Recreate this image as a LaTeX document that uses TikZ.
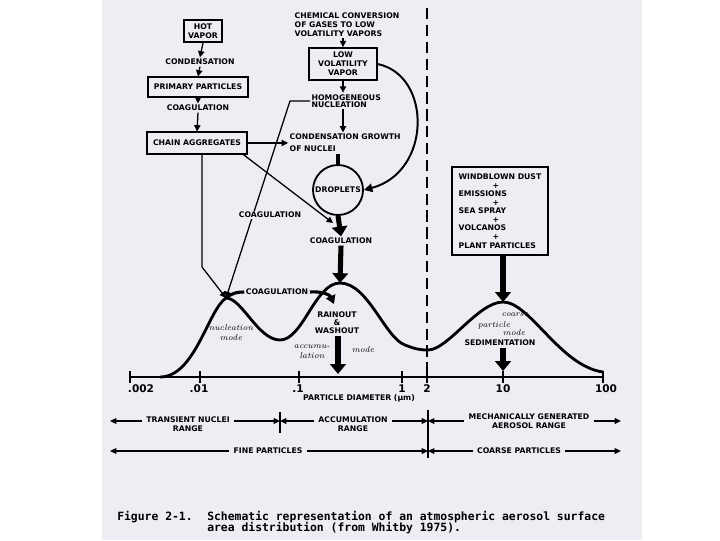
\documentclass[tikz,border=0pt]{standalone}
\usepackage{fontspec}
\setsansfont{DejaVu Sans}
\newfontfamily\capfont{DejaVu Sans Mono}
\usetikzlibrary{arrows.meta}
\definecolor{paper}{RGB}{237,237,244}

\begin{document}
\begin{tikzpicture}[x=0.025cm, y=-0.025cm,
    lbl/.style={font=\sffamily\bfseries\fontsize{5.5}{6.3}\selectfont,
                inner sep=1pt, align=center},
    box/.style={lbl, draw, line width=1.3pt, inner sep=2pt},
    rlbl/.style={lbl, inner sep=3pt},
    hand/.style={font=\rmfamily\itshape\fontsize{6}{7}\selectfont,
                 inner sep=0pt, align=center},
    ticklbl/.style={font=\sffamily\bfseries\fontsize{7.5}{8}\selectfont, inner sep=0pt},
    captxt/.style={font=\capfont\bfseries\fontsize{8.1}{9}\selectfont, anchor=base west, inner sep=0pt},
    arr/.style={-{Triangle[length=4.5pt, width=4.5pt]}, line width=0.9pt},
    bigarr/.style={-{Triangle[length=7pt, width=11pt]}, line width=3.6pt},
    rng/.style={-{Triangle[length=4.5pt, width=4pt]}, line width=1pt},
    curve/.style={line width=2pt},
    divider/.style={line width=1.4pt, dash pattern=on 8pt off 4pt},
  ]
    \useasboundingbox (0,0) rectangle (720,540);
    \fill[paper] (102,0) rectangle (642,540);

    % === Left chain: hot vapor down to chain aggregates ===
    \node[box, minimum width=0.93cm, minimum height=0.55cm] (hot) at (203,31) {HOT\\VAPOR};
    \node[lbl] (cond) at (200,62) {CONDENSATION};
    \node[box, minimum width=2.5cm, minimum height=0.48cm] (prim) at (198,87) {PRIMARY PARTICLES};
    \node[lbl] (coagA) at (198,108) {COAGULATION};
    \node[box, minimum width=2.48cm, minimum height=0.53cm] (chain) at (197,143) {CHAIN AGGREGATES};

    % === Middle chain: gases to droplets ===
    \node[lbl, anchor=west, align=left] (chem) at (293,25)
      {CHEMICAL CONVERSION\\OF GASES TO LOW\\VOLATILITY VAPORS};
    \node[box, minimum width=1.68cm, minimum height=0.8cm] (lowvol) at (343,64)
      {LOW\\VOLATILITY\\VAPOR};
    \node[lbl, anchor=west, align=left, font=\sffamily\bfseries\fontsize{5.5}{5.4}\selectfont]
      (homnuc) at (310,101) {HOMOGENEOUS\\NUCLEATION};
    \node[lbl, anchor=west, align=left, font=\sffamily\bfseries\fontsize{5.5}{8.5}\selectfont]
      (cgrow) at (288,143) {CONDENSATION GROWTH\\OF NUCLEI};
    \node[lbl, draw, circle, line width=1.3pt, minimum size=1.25cm, inner sep=0pt]
      (drop) at (338,190) {DROPLETS};
    \node[lbl] (coagB) at (341,241) {COAGULATION};

    % === Mechanical sources ===
    \node[box, minimum width=2.38cm, minimum height=2.18cm, align=left,
          font=\sffamily\bfseries\fontsize{5.5}{6.1}\selectfont] (wind) at (500,211)
      {WINDBLOWN DUST\\\hspace*{4.4em}+\\EMISSIONS\\\hspace*{4.4em}+\\SEA SPRAY\\
       \hspace*{4.4em}+\\VOLCANOS\\\hspace*{4.4em}+\\PLANT PARTICLES};

    % === Distribution curve and axis ===
    \coordinate (nucpk) at (226,298);
    \coordinate (accpk) at (340,283);
    \coordinate (coapk) at (503,302);
    \draw[curve] (160,377) .. controls (195,377) and (208,310) .. (nucpk)
      .. controls (242,298) and (258,340) .. (280,340)
      .. controls (303,340) and (315,283) .. (accpk)
      .. controls (368,283) and (385,338) .. (405,345)
      .. controls (415,349) and (420,350) .. (428,350)
      .. controls (448,350) and (478,302) .. (coapk)
      .. controls (530,302) and (560,366) .. (603,372);

    \coordinate (axL) at (130,377);
    \coordinate (axR) at (603,377);
    \draw[line width=1.3pt] (axL) -- (axR);
    \foreach \x/\p/\t in {130/141/.002, 200/199/.01, 299/298/.1, 402/402/1,
                          427/427/2, 503/503/10, 603/606/100} {
      \draw[line width=1.1pt] (\x,371) -- (\x,383);
      \node[ticklbl] (lab\x) at (\p,389) {\t};
    }
    \node[lbl] (axname) at (359,398) {PARTICLE DIAMETER (µm)};

    \coordinate (dtop) at (427,8);
    \coordinate (dbot) at (427,372);
    \draw[divider] (dtop) -- (dbot);

    % labels on the curve
    \node[lbl] (coagD) at (277,292) {COAGULATION};
    \node[lbl, font=\sffamily\bfseries\fontsize{5.5}{5.7}\selectfont] (rain) at (337,323)
      {RAINOUT\\\&\\WASHOUT};
    \node[lbl] (sed) at (500,343) {SEDIMENTATION};
    \node[hand] (nucm) at (231,333) {nucleation\\mode};
    \node[hand] (accm) at (312,352) {accumu-\\lation};
    \node[hand] (accm2) at (363,350) {mode};
    \node[hand] (coam1) at (515,315) {coarse};
    \node[hand] (coam2) at (494,325) {particle};
    \node[hand] (coam3) at (514,333) {mode};

    % === Arrows: left chain ===
    \draw[arr] (hot.south) -- (cond.north);
    \draw[arr] (cond.south) -- (prim.north);
    \draw[arr] (prim.south) -- (coagA.north);
    \draw[arr] (coagA.south) -- (chain.north);
    \draw[arr] (chain.east) -- (cgrow.west);
    \coordinate (bendA) at (202,267);
    \draw[arr] (chain.south -| bendA) -- (bendA) -- (nucpk);
    \coordinate (mergeB) at (333,223);
    \draw[arr] ([xshift=-3pt]chain.south east) -- (mergeB);

    % === Arrows: middle chain ===
    \draw[arr] (chem.south -| lowvol) -- (lowvol.north);
    \draw[arr] (lowvol.south) -- (lowvol.south |- homnuc.north);
    \draw[arr] (lowvol.south |- homnuc.south) -- (lowvol.south |- cgrow.north);
    \draw[line width=2.2pt] (drop.north |- cgrow.south) -- (drop.north);
    \draw[line width=1.4pt, -{Triangle[length=6pt, width=6pt]}]
      (lowvol.east) .. controls (432,75) and (432,172) .. (drop.east);
    \coordinate (bendB) at (290,101);
    \draw[arr] (homnuc.west) -- (bendB) -- (nucpk);
    \node[lbl, fill=paper] (coagC) at (270,215) {COAGULATION};

    % === Thick flow arrows ===
    \draw[bigarr] (drop.south) -- (coagB.north);
    \draw[bigarr] (coagB.south) -- (accpk);
    \draw[bigarr] (wind.south -| coapk) -- (coapk);
    \coordinate (rainend) at (338,374);
    \draw[bigarr] (rain.south -| rainend) -- (rainend);
    \coordinate (sedend) at (503,371);
    \draw[bigarr] (sed.south -| sedend) -- (sedend);

    % coagulation between the modes
    \coordinate (accin) at (334,304);
    \draw[line width=2.2pt] (nucpk) .. controls (232,293) and (237,292) .. (coagD.west);
    \draw[line width=2.2pt, -{Triangle[length=6pt, width=7pt]}]
      (coagD.east) .. controls (322,291) and (330,295) .. (accin);

    % === Size ranges ===
    \coordinate (t1) at (110,421);
    \coordinate (c1) at (280,421);
    \coordinate (c2) at (428,421);
    \coordinate (t2) at (621,421);
    \node[rlbl] (tnr) at (188,424) {TRANSIENT NUCLEI\\RANGE};
    \node[rlbl] (accr) at (353,424) {ACCUMULATION\\RANGE};
    \node[rlbl] (mech) at (529,421) {MECHANICALLY GENERATED\\AEROSOL RANGE};
    \draw[rng] (tnr.west |- t1) -- (t1);
    \draw[rng] (tnr.east |- c1) -- (c1);
    \draw[rng] (accr.west |- c1) -- (c1);
    \draw[rng] (accr.east |- c2) -- (c2);
    \draw[rng] (mech.west |- c2) -- (c2);
    \draw[rng] (mech.east |- t2) -- (t2);

    \coordinate (f1) at (110,451);
    \coordinate (f2) at (428,451);
    \coordinate (f3) at (621,451);
    \node[rlbl] (fine) at (268,451) {FINE PARTICLES};
    \node[rlbl] (coarse) at (519,451) {COARSE PARTICLES};
    \draw[rng] (fine.west) -- (f1);
    \draw[rng] (fine.east) -- (f2);
    \draw[rng] (coarse.west) -- (f2);
    \draw[rng] (coarse.east) -- (f3);

    \coordinate (c1a) at (280,412);
    \coordinate (c1b) at (280,433);
    \coordinate (c2a) at (428,410);
    \coordinate (c2b) at (428,458);
    \draw[line width=1.2pt] (c1a) -- (c1b);
    \draw[line width=1.2pt] (c2a) -- (c2b);

    % === Caption ===
    \node[captxt] (fig) at (117,520) {Figure 2-1.};
    \node[captxt] (capt1) at (207,520) {Schematic representation of an atmospheric aerosol surface};
    \node[captxt] (capt2) at (207,531) {area distribution (from Whitby 1975).};
  \end{tikzpicture}
\end{document}
